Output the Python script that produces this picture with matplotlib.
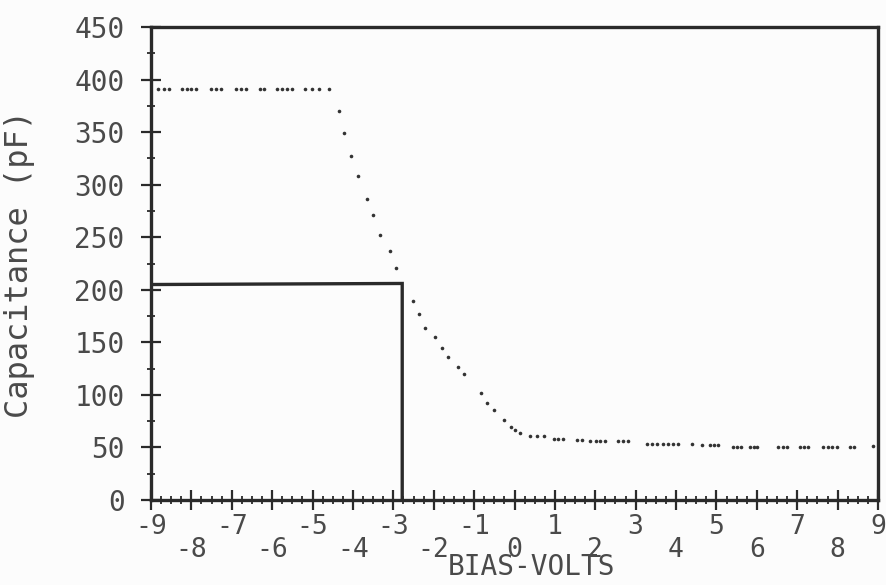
import matplotlib
matplotlib.use("Agg")
import matplotlib.pyplot as plt
from matplotlib.ticker import MultipleLocator

# ---- data ----
bias_v = [-8.83, -8.68, -8.56, -8.24, -8.12, -8.02, -7.89, -7.51, -7.39, -7.27,
          -6.90, -6.78, -6.66, -6.30, -6.19, -5.89, -5.76, -5.64, -5.52, -5.18,
          -5.01, -4.83, -4.60,
          -4.35, -4.21, -4.04, -3.88, -3.64, -3.50, -3.33, -3.08, -2.94,
          -2.52, -2.37, -2.21, -1.97, -1.80, -1.64, -1.40, -1.24, -0.84, -0.67,
          -0.50, -0.25, -0.09, 0.00, 0.14, 0.39, 0.56, 0.72, 0.98, 1.08, 1.19,
          1.54, 1.66, 1.87, 2.02, 2.12, 2.24, 2.57, 2.69, 2.82, 3.27, 3.40,
          3.52, 3.68, 3.81, 3.93, 4.06, 4.39, 4.63, 4.84, 4.94, 5.05, 5.42,
          5.52, 5.62, 5.83, 5.93, 6.01, 6.53, 6.64, 6.74, 7.07, 7.17, 7.27,
          7.65, 7.75, 7.86, 7.98, 8.31, 8.41, 8.87]
cap_pf = [391, 391, 391, 391, 391, 391, 391, 391, 391, 391,
          391, 391, 391, 391, 391, 391, 391, 391, 391, 391,
          391, 391, 391,
          370.4, 349.2, 327.0, 308.3, 286.1, 270.9, 252.1, 236.6, 220.7,
          189.6, 176.7, 163.7, 154.8, 144.9, 135.8, 126.5, 120.2, 101.5, 92.0,
          85.9, 76.4, 69.7, 66.9, 63.7, 60.9, 60.9, 60.9, 58, 58, 58,
          57, 57, 56, 56, 56, 56, 56, 56, 56, 53, 53,
          53, 53, 53, 53, 53, 53, 52, 52, 52, 52, 50,
          50, 50, 50, 50, 50, 50, 50, 50, 50, 50, 50,
          50, 50, 50, 50, 50, 50, 51]

box_v = [-9, -2.78, -2.78]
box_c = [205, 206, 0]

x_ticks = list(range(-9, 10))
x_labels = [str(v) if v % 2 else "\n" + str(v) for v in x_ticks]
y_ticks = list(range(0, 451, 50))
y_labels = [str(v) for v in y_ticks]

ink = "#2a2a2a"
txt = "#4a4a4a"
mono = ["DejaVu Sans Mono"]

fig = plt.figure(figsize=(8.87, 5.85), dpi=100, facecolor="#fcfcfc")
ax = fig.add_axes([151 / 887, 85 / 585, 727 / 887, 473 / 585])
ax.set_facecolor("#fcfcfc")

ax.plot(bias_v, cap_pf, linestyle="none", marker="o", markersize=2.6,
        color="#333333", markeredgewidth=0)
ax.plot(box_v, box_c, color=ink, linewidth=2.4, solid_joinstyle="miter")

ax.set_xlim(-9, 9)
ax.set_ylim(0, 450)
for s in ax.spines.values():
    s.set_linewidth(2.4)
    s.set_color(ink)

ax.set_xticks(x_ticks)
ax.set_xticklabels(x_labels, family=mono, fontsize=19, color=txt, linespacing=0.88)
ax.set_yticks(y_ticks)
ax.set_yticklabels(y_labels, family=mono, fontsize=20, color=txt)
ax.xaxis.set_minor_locator(MultipleLocator(0.25))
ax.yaxis.set_minor_locator(MultipleLocator(25))
ax.tick_params(axis="both", which="major", direction="inout", length=14,
               width=1.6, color=ink)
ax.tick_params(axis="both", which="minor", direction="inout", length=6,
               width=1.3, color=ink)
ax.tick_params(axis="x", which="major", pad=3)
ax.tick_params(axis="y", which="major", pad=12)
ax.tick_params(top=False, right=False, which="both")

ax.set_xlabel("BIAS-VOLTS", family=mono, fontsize=20, color=txt)
ax.xaxis.set_label_coords(0.524, -0.112)
ax.set_ylabel("Capacitance (pF)", family=mono, fontsize=23, color=txt)
ax.yaxis.set_label_coords(-0.16, 0.5)

fig.savefig("out.png", dpi=100, facecolor=fig.get_facecolor())
